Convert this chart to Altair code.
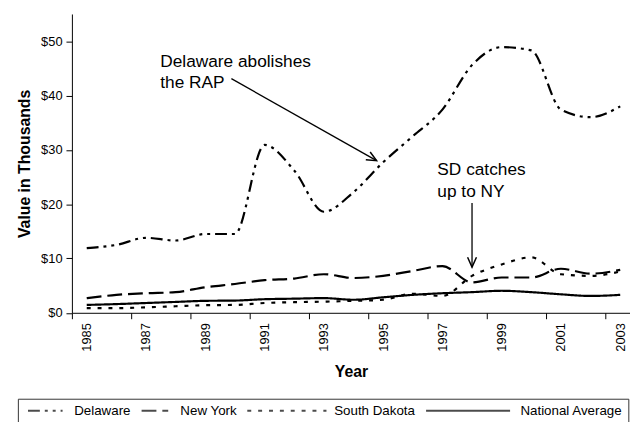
import altair as alt
import pandas as pd

years = list(range(1985, 2004))
delaware = [11.9, 12.5, 13.8, 13.3, 14.5, 14.5, 30.9, 26.2, 18.6, 22.2, 27.7, 32.5, 37.4, 45.6, 48.9, 48.3, 37.4, 36.0, 38.0]
new_york = [2.7, 3.3, 3.6, 3.8, 4.7, 5.3, 6.0, 6.3, 7.1, 6.4, 6.8, 7.7, 8.6, 5.6, 6.5, 6.5, 8.1, 7.2, 7.9]
south_dakota = [0.85, 0.85, 1.0, 1.2, 1.4, 1.45, 1.8, 1.95, 2.05, 2.2, 2.4, 3.5, 3.1, 6.8, 8.9, 10.2, 7.1, 6.8, 7.6]
national = [1.45, 1.6, 1.8, 2.0, 2.2, 2.25, 2.5, 2.6, 2.7, 2.4, 2.85, 3.3, 3.6, 3.8, 4.05, 3.8, 3.4, 3.1, 3.3]

series_names = ["Delaware", "New York", "South Dakota", "National Average"]
series_values = [delaware, new_york, south_dakota, national]
dashes = [[12, 5, 3, 5, 3, 5], [15, 6], [4, 7], [1, 0]]
# legend key lines of different lengths, as in the original legend
key_paths = ["M -1 0 L 9 0", "M -1 0 L 6.7 0", "M -1 0 L 21.9 0", "M -1 0 L 23.3 0"]
ZW = "\u200b"
NB = "\u00a0"
key_labels = [ZW + NB * 2 + "Delaware", "New York", ZW + NB * 13 + "South Dakota", ZW + NB * 15 + "National Average"]

y_ticks = [0, 10, 20, 30, 40, 50]

# annotations (in data units)
note_text = ["Delaware abolishes", "the RAP", "SD catches", "up to NY"]
note_x = [1987.48, 1987.48, 1996.83, 1996.83]
note_y = [46.2, 42.2, 26.2, 22.2]

arrow_x = [1989.88, 1998.0]
arrow_y = [43.1, 20.2]
arrow_x2 = [1994.78, 1998.0]
arrow_y2 = [28.0, 8.4]
arrow_angle = [29.4, 90]

FONT = "Liberation Sans"

rows = []
for name, vals in zip(series_names, series_values):
    for yr, v in zip(years, vals):
        rows.append({"Year": yr, "Value": v, "Series": name})
df = pd.DataFrame(rows)

notes = pd.DataFrame({"text": note_text, "x": note_x, "y": note_y})
arrows = pd.DataFrame({"x": arrow_x, "y": arrow_y, "x2": arrow_x2, "y2": arrow_y2, "angle": arrow_angle})

label_expr = " : ".join(
    f"datum.label == '{n}' ? '{l}'" for n, l in zip(series_names, key_labels)
) + " : datum.label"

def make_legend():
    return alt.Legend(
        title=ZW + NB, titleOrient="left", titleFontSize=13.5, titlePadding=2,
        titleFont=FONT,
        orient="none", direction="horizontal", columns=4,
        legendX=-54.7, legendY=389.5,
        symbolSize=49, symbolStrokeWidth=2, symbolStrokeColor="black",
        labelFont=FONT, labelFontSize=13.5, labelColor="black",
        labelOffset=29, columnPadding=6, padding=5, labelExpr=label_expr,
        labelLimit=300, strokeColor="#333333",
    )

x_scale = alt.Scale(domain=[1984.5, 2003.33], nice=False, zero=False)
y_scale = alt.Scale(domain=[0, 55], nice=False)

x_axis = alt.Axis(
    values=years, format="d",
    labelExpr="datum.value % 2 == 1 ? datum.label : ''",
    tickOffset=-15, labelOffset=15, labelAngle=270,
    labelOverlap=False, labelFlush=False, labelBound=False,
    grid=False, domainColor="black", tickColor="black", tickSize=6,
    labelFont=FONT, labelFontSize=13, labelColor="black", labelPadding=4,
    title="Year", titleFont=FONT, titleFontSize=16, titleFontWeight="bold",
    titleColor="black", titleBaseline="middle", titleY=59,
)
y_axis = alt.Axis(
    values=y_ticks, format="$.0f", grid=False,
    domainColor="black", tickColor="black", tickSize=6,
    labelFont=FONT, labelFontSize=13, labelColor="black", labelPadding=4,
    title="Value in Thousands", titleFont=FONT, titleFontSize=16,
    titleFontWeight="bold", titleColor="black", titleAngle=270,
    titleBaseline="middle", titleAlign="center", titleX=-47.7,
)

lines = alt.Chart(df).mark_line(interpolate="monotone", strokeWidth=2.2, color="black").encode(
    x=alt.X("Year:Q", scale=x_scale, axis=x_axis),
    y=alt.Y("Value:Q", scale=y_scale, axis=y_axis),
    strokeDash=alt.StrokeDash(
        "Series:N",
        scale=alt.Scale(domain=series_names, range=dashes),
        sort=series_names,
        legend=make_legend(),
    ),
    detail="Series:N",
)

# carries only the legend key shapes; draws nothing
keys = alt.Chart(df).transform_filter("datum.Value < -1000").mark_point(
    filled=False, color="black", strokeWidth=2
).encode(
    x=alt.X("Year:Q", scale=x_scale),
    y=alt.Y("Value:Q", scale=y_scale),
    shape=alt.Shape(
        "Series:N",
        scale=alt.Scale(domain=series_names, range=key_paths),
        sort=series_names,
        legend=make_legend(),
    ),
)

text = alt.Chart(notes).mark_text(
    align="left", baseline="middle", font=FONT, fontSize=17.5, color="black"
).encode(
    x=alt.X("x:Q", scale=x_scale), y=alt.Y("y:Q", scale=y_scale), text="text:N"
)

rules = alt.Chart(arrows).mark_rule(color="black", strokeWidth=1.3).encode(
    x=alt.X("x:Q", scale=x_scale), y=alt.Y("y:Q", scale=y_scale),
    x2="x2:Q", y2="y2:Q",
)

heads = alt.Chart(arrows).mark_point(
    shape="M -1 -0.45 L 0 0 L -1 0.45", filled=False, color="black",
    strokeWidth=1.5, size=400, opacity=1,
).encode(
    x=alt.X("x2:Q", scale=x_scale), y=alt.Y("y2:Q", scale=y_scale),
    angle=alt.Angle("angle:Q", scale=None),
)

chart = alt.layer(lines, keys, rules, heads, text).properties(
    width=565, height=302.5,
    autosize=alt.AutoSizeParams(type="none"),
    padding={"left": 64.7, "top": 3.5, "right": 0, "bottom": 108},
    background="white",
).configure_view(strokeWidth=0)

chart.save("out.html", embed_options={"renderer": "svg", "actions": False})
